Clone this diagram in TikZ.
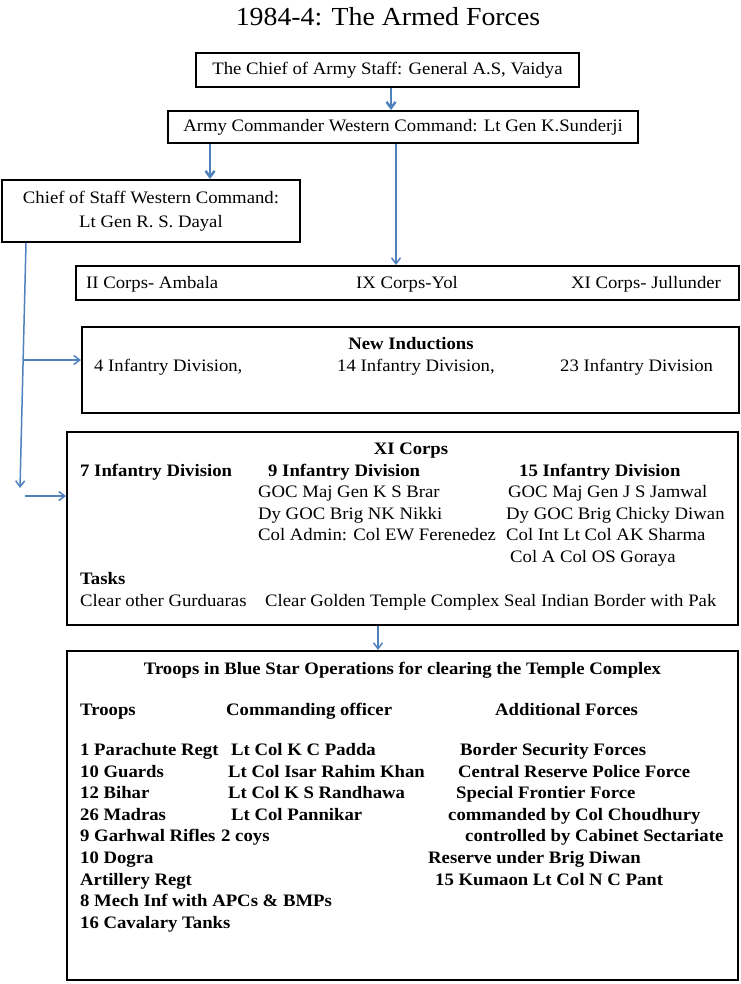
\documentclass[tikz,border=0pt]{standalone}
\usepackage{fontspec}
\setmainfont{Liberation Serif}[FakeStretch=1.07]
\usetikzlibrary{arrows.meta, arrows}
\definecolor{armyblue}{RGB}{79,129,189}
\tikzstyle{rank} = [rectangle, draw=black, line width=2pt, inner sep=0pt, text centered, font=\fontsize{17.5pt}{24pt}\selectfont]
\tikzstyle{txt} = [inner sep=0pt, anchor=base west, font=\fontsize{17.5pt}{17.5pt}\selectfont]
\tikzstyle{btxt} = [txt, font=\fontsize{17.5pt}{17.5pt}\selectfont\bfseries]
\tikzstyle{arrow} = [armyblue, line width=1.5pt, -{Straight Barb[length=6pt,width=9pt]}]
\tikzstyle{thickarrow} = [arrow, line width=2.5pt]

\begin{document}
\begin{tikzpicture}[x=1pt, y=-1pt]
\useasboundingbox (0,0) rectangle (740,984);
%title
\node[font=\fontsize{26pt}{26pt}\selectfont] (title) at (388,17) {1984-4: The Armed Forces};
%command chain
\node[rank, minimum width=383pt, minimum height=34pt] (coas) at (387.5,70) {The Chief of Army Staff: General A.S, Vaidya};
\node[rank, minimum width=470pt, minimum height=32pt] (cmd) at (403,127) {Army Commander Western Command: Lt Gen K.Sunderji};
\node[rank, minimum width=298pt, minimum height=62pt, align=center] (cos) at (151,211) {Chief of Staff Western Command:\\Lt Gen R. S. Dayal};

%corps
\node[rank, minimum width=663pt, minimum height=34pt] (corps) at (407.5,283) {};
\node[txt] (corps2) at (86,288) {II Corps- Ambala};
\node[txt] (corps9) at (356,288) {IX Corps-Yol};
\node[txt] (corps11) at (571,288) {XI Corps- Jullunder};

%new inductions
\node[rank, minimum width=657pt, minimum height=86pt] (newind) at (410.5,370) {};
\node[btxt, anchor=base] (newhead) at (411,349) {New Inductions};
\node[txt] (div4) at (94,371) {4 Infantry Division,};
\node[txt] (div14) at (337,371) {14 Infantry Division,};
\node[txt] (div23) at (560,371) {23 Infantry Division};

%XI Corps
\node[rank, minimum width=671pt, minimum height=193pt] (xi) at (402.5,528.5) {};
\node[btxt, anchor=base] (xihead) at (411,454) {XI Corps};
\node[btxt] (div7) at (80,476) {7 Infantry Division};
\node[btxt] (div9) at (268,476) {9 Infantry Division};
\node[btxt] (div15) at (519,476) {15 Infantry Division};
\node[txt] (goc9) at (258,497) {GOC Maj Gen K S Brar};
\node[txt] (goc15) at (508,497) {GOC Maj Gen J S Jamwal};
\node[txt] (dy9) at (258,519) {Dy GOC Brig NK Nikki};
\node[txt] (dy15) at (506,519) {Dy GOC Brig Chicky Diwan};
\node[txt] (adm9) at (258,540) {Col Admin: Col EW Ferenedez};
\node[txt] (int15) at (506,540) {Col Int Lt Col AK Sharma};
\node[txt] (cola15) at (510,562) {Col A Col OS Goraya};
\node[btxt] (tasks) at (80,584) {Tasks};
\node[txt] (task1) at (80,606) {Clear other Gurduaras};
\node[txt] (task2) at (265,606) {Clear Golden Temple Complex Seal Indian Border with Pak};

%Blue Star
\node[rank, minimum width=671pt, minimum height=329pt] (bs) at (402.5,815.5) {};
\node[btxt, anchor=base] (bshead) at (402.5,674) {Troops in Blue Star Operations for clearing the Temple Complex};
\node[btxt] (hdtroops) at (80,715) {Troops};
\node[btxt] (hdco) at (226,715) {Commanding officer};
\node[btxt] (hdadd) at (495,715) {Additional Forces};
\node[btxt] (tr1) at (80,755) {1 Parachute Regt};
\node[btxt] (co1) at (231,755) {Lt Col K C Padda};
\node[btxt] (ad1) at (460,755) {Border Security Forces};
\node[btxt] (tr2) at (80,777) {10 Guards};
\node[btxt] (co2) at (228,777) {Lt Col Isar Rahim Khan};
\node[btxt] (ad2) at (458,777) {Central Reserve Police Force};
\node[btxt] (tr3) at (80,798) {12 Bihar};
\node[btxt] (co3) at (228,798) {Lt Col K S Randhawa};
\node[btxt] (ad3) at (456,798) {Special Frontier Force};
\node[btxt] (tr4) at (80,820) {26 Madras};
\node[btxt] (co4) at (231,820) {Lt Col Pannikar};
\node[btxt] (ad4) at (448,820) {commanded by Col Choudhury};
\node[btxt] (tr5) at (80,841) {9 Garhwal Rifles};
\node[btxt] (co5) at (221,841) {2 coys};
\node[btxt] (ad5) at (465,841) {controlled by Cabinet Sectariate};
\node[btxt] (tr6) at (80,863) {10 Dogra};
\node[btxt] (ad6) at (428,863) {Reserve under Brig Diwan};
\node[btxt] (tr7) at (80,885) {Artillery Regt};
\node[btxt] (ad7) at (435,885) {15 Kumaon Lt Col N C Pant};
\node[btxt] (tr8) at (80,906) {8 Mech Inf with APCs \& BMPs};
\node[btxt] (tr9) at (80,928) {16 Cavalary Tanks};

%arrows
\coordinate (fork) at (24,360);
\coordinate (drop) at (20,488);
\coordinate (branch) at (25,496);
\draw [thickarrow] ([xshift=3.5pt]coas.south) -- ([xshift=3.5pt]coas.south |- cmd.north);
\draw [thickarrow] ([xshift=-193pt]cmd.south) -- ([xshift=-193pt]cmd.south |- cos.north);
\draw [arrow] ([xshift=-7pt]cmd.south) -- ([xshift=-7pt]cmd.south |- corps.north);
\draw [arrow] ([xshift=-125pt]cos.south) -- (drop);
\draw [arrow] (fork) -- (fork -| newind.west);
\draw [arrow] (branch) -- (branch -| xi.west);
\draw [arrow] ([xshift=-24.5pt]xi.south) -- ([xshift=-24.5pt]xi.south |- bs.north);
\end{tikzpicture}
\end{document}
